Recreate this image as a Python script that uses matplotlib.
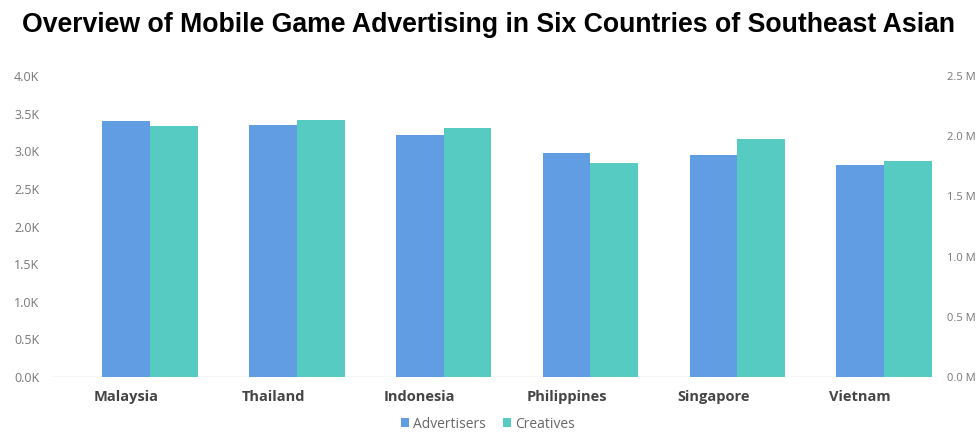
import matplotlib.pyplot as plt
import numpy as np

plt.rcParams['font.family'] = ['Open Sans', 'DejaVu Sans']

countries = ['Malaysia', 'Thailand', 'Indonesia', 'Philippines', 'Singapore', 'Vietnam']
advertisers = [3400, 3350, 3215, 2975, 2945, 2815]          # left axis
creatives = [2.085, 2.135, 2.065, 1.78, 1.98, 1.79]        # right axis, millions
left_ticks = [0, 500, 1000, 1500, 2000, 2500, 3000, 3500, 4000]
right_ticks = [0, 0.5, 1.0, 1.5, 2.0, 2.5]

c_adv = '#619de2'
c_cre = '#56cbc2'

fig = plt.figure(figsize=(9.76, 4.44), dpi=100)
ax = fig.add_axes([52 / 976, 1 - 377 / 444, 884 / 976, 301 / 444])
ax2 = ax.twinx()

x = np.arange(len(countries))
w = 0.325
ax.bar(x - w / 2, advertisers, w, color=c_adv, label='Advertisers', zorder=2)
ax2.bar(x + w / 2, creatives, w, color=c_cre, label='Creatives', zorder=2)

ax.set_xlim(-0.668, 5.354)
ax.set_ylim(0, 4000)
ax2.set_ylim(0, 2.5)
ax.set_yticks(left_ticks)
ax.set_yticklabels([f'{v / 1000:.1f}K' for v in left_ticks])
ax2.set_yticks(right_ticks)
ax2.set_yticklabels([f'{v:.1f} M' for v in right_ticks])
# labels sit under the advertiser bars, as in the original
ax.set_xticks(x - w / 2)
ax.set_xticklabels(countries, fontweight='bold')

for a in (ax, ax2):
    for s in a.spines.values():
        s.set_visible(False)
    a.tick_params(length=0, labelsize=9, labelcolor='#777777')
ax.tick_params(axis='x', pad=9, labelcolor='#444444', labelsize=10.5)
ax.tick_params(axis='y', pad=9)
ax2.tick_params(axis='y', pad=8, labelsize=8)
ax.axhline(0, color='#d9d9d9', lw=1, zorder=1)

fig.text(0.5, 1 - 25 / 444, 'Overview of Mobile Game Advertising in Six Countries of Southeast Asian',
         ha='center', va='center', fontsize=19.2, fontweight='bold', color='black',
         family='Liberation Sans')

h1, l1 = ax.get_legend_handles_labels()
h2, l2 = ax2.get_legend_handles_labels()
fig.legend(h1 + h2, l1 + l2, loc='center', bbox_to_anchor=(0.5, 1 - 424 / 444), ncol=2,
           frameon=False, fontsize=10, handlelength=0.6, handleheight=0.6,
           handletextpad=0.3, columnspacing=1.2, labelcolor='#666666')

fig.savefig('out.png', dpi=100)
